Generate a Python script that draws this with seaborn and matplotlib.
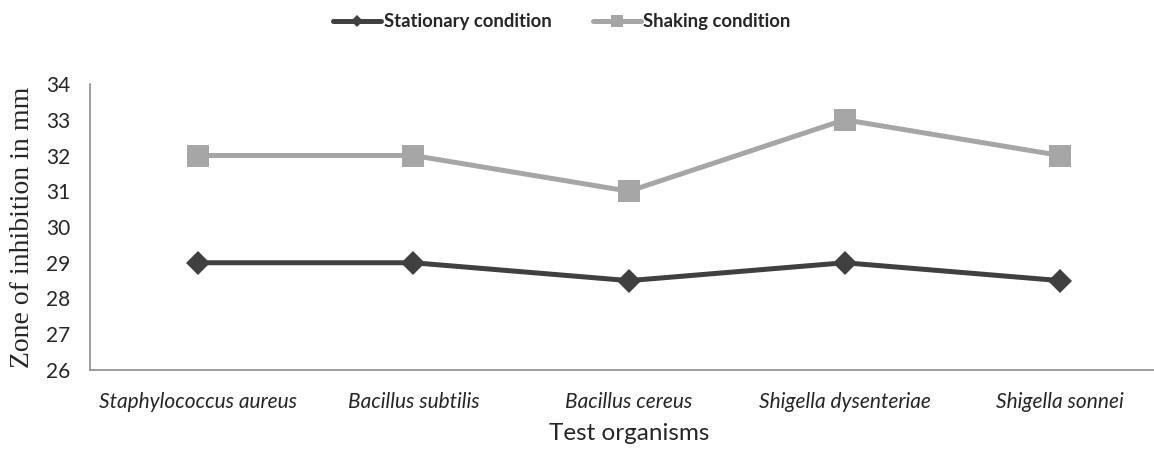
import matplotlib
matplotlib.use("Agg")
import matplotlib.pyplot as plt
import seaborn as sns
import pandas as pd

organisms = ["Staphylococcus aureus", "Bacillus subtilis", "Bacillus cereus",
             "Shigella dysenteriae", "Shigella sonnei"]
stationary = [29, 29, 28.5, 29, 28.5]
shaking = [32, 32, 31, 33, 32]
series_names = ["Stationary condition", "Shaking condition"]
y_ticks = [26, 27, 28, 29, 30, 31, 32, 33, 34]

df = pd.DataFrame({
    "organism": organisms * 2,
    "value": stationary + shaking,
    "condition": [series_names[0]] * len(organisms) + [series_names[1]] * len(organisms),
})

sns.set_style("white")
plt.rcParams['font.family'] = ['Lato', 'DejaVu Sans']

fig = plt.figure(figsize=(11.54, 4.49), dpi=100)
ax = fig.add_axes([90/1154, 1-370/449, (1168-90)/1154, (370-84)/449])

palette = {series_names[0]: "#404040", series_names[1]: "#a6a6a6"}
markers = {series_names[0]: "D", series_names[1]: "s"}
sizes = {series_names[0]: 12, series_names[1]: 16}

for name in series_names:
    sub = df[df["condition"] == name]
    sns.lineplot(data=sub, x="organism", y="value", ax=ax, color=palette[name],
                 marker=markers[name], markersize=sizes[name], linewidth=3.6,
                 markeredgewidth=0, label=name, sort=False)

ax.set_xlim(-0.5, 4.5)
ax.set_ylim(26, 34)
ax.set_yticks(y_ticks)
ax.set_yticklabels([str(t) for t in y_ticks], fontsize=15)
ax.set_xticks(range(len(organisms)))
ax.set_xticklabels(organisms, fontsize=15, style="italic")
ax.tick_params(axis="y", length=0, pad=14)
ax.tick_params(axis="x", length=0, pad=16)
ax.set_xlabel("Test organisms", fontsize=17.5, labelpad=8)
ax.set_ylabel("Zone of inhibition in mm", fontsize=20, family="Liberation Serif", labelpad=8)

for side in ["top", "right"]:
    ax.spines[side].set_visible(False)
for side in ["left", "bottom"]:
    ax.spines[side].set_color("#8c8c8c")
    ax.spines[side].set_linewidth(1.2)

ax.get_legend().remove()
handles, labels = ax.get_legend_handles_labels()
leg = fig.legend(handles, labels, loc="center", bbox_to_anchor=(0.487, 0.952), ncol=2,
                 frameon=False, prop={"weight": "bold", "size": 13.3}, handlelength=2.6,
                 columnspacing=2.2, handletextpad=0.15, markerscale=0.55)

fig.savefig("out.png", dpi=100)
